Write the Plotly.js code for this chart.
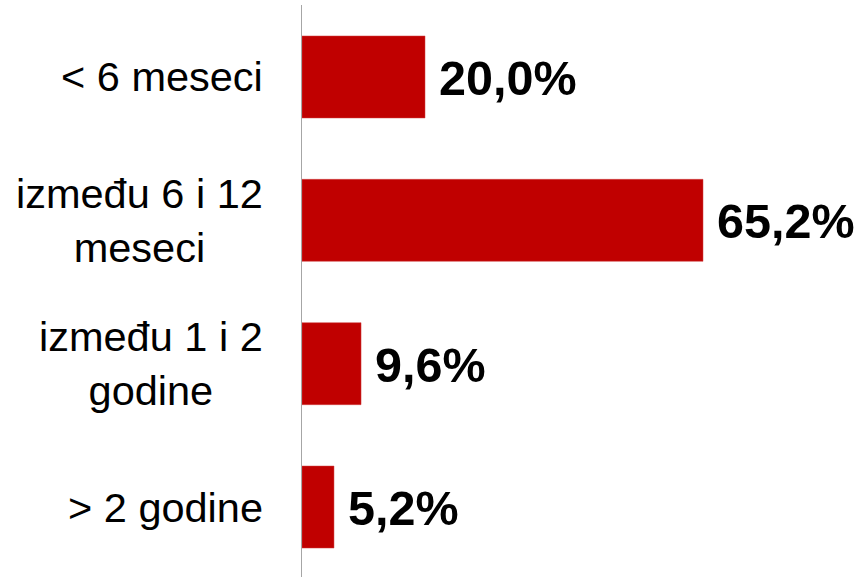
<!DOCTYPE html>
<html>
<head>
<meta charset="utf-8">
<script src="https://cdn.plot.ly/plotly-3.0.1.min.js"></script>
<style>html,body{margin:0;padding:0;background:#fff;}#chart{width:858px;height:577px;}</style>
</head>
<body>
<div id="chart"></div>
<script>
var categories = ["&lt; 6 meseci", "između 6 i 12<br>meseci", "između 1 i 2<br>godine", "&gt; 2 godine"];
var values = [20.0, 65.2, 9.6, 5.2];
var valueLabels = ["20,0%", "65,2%", "9,6%", "5,2%"];

var trace = {
  type: "bar",
  orientation: "h",
  x: values,
  y: categories,
  marker: {color: "#C00000", line: {color: "#D04040", width: 0.5}},
  hoverinfo: "none"
};

var annotations = [];
categories.forEach(function (c, i) {
  annotations.push({
    xref: "paper", yref: "y", x: 0, y: c,
    text: c, showarrow: false, xanchor: "right", yanchor: "middle",
    align: "center", xshift: -37,
    font: {family: "Liberation Sans, Arial, sans-serif", size: 41.5, color: "#000"}
  });
  annotations.push({
    xref: "x", yref: "y", x: values[i], y: c,
    text: "<b>" + valueLabels[i] + "</b>", showarrow: false, xanchor: "left", yanchor: "middle",
    xshift: 12, yshift: -1,
    font: {family: "Liberation Sans, Arial, sans-serif", size: 48.5, color: "#000"}
  });
});

var layout = {
  width: 858, height: 577,
  margin: {l: 302, r: 0, t: 5, b: 0, pad: 0},
  paper_bgcolor: "#fff", plot_bgcolor: "#fff",
  showlegend: false,
  bargap: 0.428,
  xaxis: {range: [0, 90.4], showgrid: false, zeroline: false, showticklabels: false, showline: false, ticks: ""},
  yaxis: {autorange: false, range: [3.488, -0.502], type: "category", showgrid: false, zeroline: false,
          showticklabels: false, ticks: "", showline: true, linecolor: "#A6A6A6", linewidth: 1.3},
  annotations: annotations
};

Plotly.newPlot("chart", [trace], layout, {staticPlot: true, displayModeBar: false});
</script>
</body>
</html>
